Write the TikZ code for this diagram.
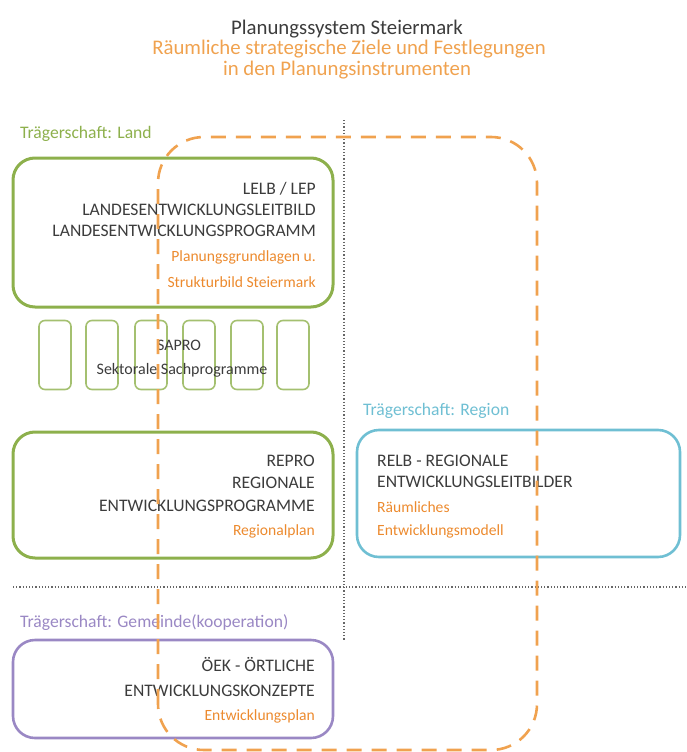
\documentclass[tikz,border=0pt]{standalone}
\usepackage{fontspec}
\setmainfont{Carlito}
\definecolor{tgreen}{HTML}{8DB04C}
\definecolor{tblue}{HTML}{6FBFD3}
\definecolor{tpurple}{HTML}{9A88C4}
\definecolor{torange}{HTML}{EC8A2E}
\definecolor{tlorange}{HTML}{F0A24F}
\definecolor{tdark}{HTML}{3C3C3C}
\begin{document}
\begin{tikzpicture}[x=1pt,y=-1pt,
  bigbox/.style={draw,rounded corners=22pt,line width=3pt,inner sep=0pt},
  smallbox/.style={draw=tgreen!80,rounded corners=6pt,line width=1.6pt,minimum width=32pt,minimum height=69pt,inner sep=0pt},
  caps/.style={font=\fontsize{17.6}{19}\selectfont,text=tdark,inner sep=0pt},
  sub/.style={font=\fontsize{15.6}{17}\selectfont,text=torange,inner sep=0pt},
  head/.style={font=\fontsize{17.6}{19}\selectfont,inner sep=0pt,anchor=base west},
  sep/.style={draw=gray!80!black,dotted,line width=1.2pt},
  odash/.style={draw=tlorange,line width=2.6pt,dash pattern=on 15pt off 10pt,rounded corners=46pt}
]
\useasboundingbox (0,0) rectangle (687,752);
% title
\node[font=\fontsize{20.8}{22}\selectfont,text=tdark,inner sep=0pt] (t1) at (347,29) {Planungssystem Steiermark};
\node[font=\fontsize{20.8}{22}\selectfont,text=tlorange,inner sep=0pt] (t2) at (349,49) {Räumliche strategische Ziele und Festlegungen};
\node[font=\fontsize{20.8}{22}\selectfont,text=tlorange,inner sep=0pt] (t3) at (347,70) {in den Planungsinstrumenten};
% separators
\coordinate (v1) at (344,120);
\coordinate (v2) at (344,641);
\coordinate (h1) at (13,587);
\coordinate (h2) at (687,587);
\draw[sep] (v1) -- (v2);
\draw[sep] (h1) -- (h2);
% Land
\node[head,text=tgreen] (hland) at (20,138) {Trägerschaft: Land};
\node[bigbox,draw=tgreen,minimum width=320pt,minimum height=149pt] (land) at (173,232.5) {};
\node[caps,anchor=base east] (l1) at (316,194) {LELB / LEP};
\node[caps,anchor=base east] (l2) at (316,215) {LANDESENTWICKLUNGSLEITBILD};
\node[caps,anchor=base east] (l3) at (316,236) {LANDESENTWICKLUNGSPROGRAMM};
\node[sub,anchor=base east] (l4) at (316,261) {Planungsgrundlagen u.};
\node[sub,anchor=base east] (l5) at (316,287) {Strukturbild Steiermark};
% SAPRO
\node[smallbox] (s1) at (55,355) {};
\node[smallbox] (s2) at (102,355) {};
\node[smallbox] (s3) at (151,355) {};
\node[smallbox] (s4) at (199,355) {};
\node[smallbox] (s5) at (247,355) {};
\node[smallbox] (s6) at (293,355) {};
\node[font=\fontsize{16}{18}\selectfont,text=tdark,inner sep=0pt] (sap1) at (179,345) {SAPRO};
\node[font=\fontsize{16}{18}\selectfont,text=tdark,inner sep=0pt] (sap2) at (182,370) {Sektorale Sachprogramme};
% REPRO
\node[bigbox,draw=tgreen,minimum width=320pt,minimum height=126pt] (repro) at (173,495) {};
\node[caps,anchor=base east] (r1) at (315,466) {REPRO};
\node[caps,anchor=base east] (r2) at (315,488) {REGIONALE};
\node[caps,anchor=base east] (r3) at (315,511) {ENTWICKLUNGSPROGRAMME};
\node[sub,anchor=base east] (r4) at (315,535) {Regionalplan};
% Region
\node[head,text=tblue] (hreg) at (363,415) {Trägerschaft: Region};
\node[bigbox,draw=tblue,line width=2.6pt,minimum width=323pt,minimum height=127pt] (relb) at (518.5,493.5) {};
\node[caps,anchor=base west] (b1) at (377,466) {RELB - REGIONALE};
\node[caps,anchor=base west] (b2) at (377,487) {ENTWICKLUNGSLEITBILDER};
\node[sub,anchor=base west] (b3) at (377,512) {Räumliches};
\node[sub,anchor=base west] (b4) at (377,535) {Entwicklungsmodell};
% Gemeinde
\node[head,text=tpurple] (hgem) at (20,627) {Trägerschaft: Gemeinde(kooperation)};
\node[bigbox,draw=tpurple,line width=2.6pt,minimum width=320pt,minimum height=98pt] (oek) at (173,689) {};
\node[caps,anchor=base east] (o1) at (315,671) {ÖEK - ÖRTLICHE};
\node[caps,anchor=base east] (o2) at (315,696) {ENTWICKLUNGSKONZEPTE};
\node[sub,anchor=base east] (o3) at (315,720) {Entwicklungsplan};
% orange dashed frame
\coordinate (f1) at (158,750);
\coordinate (f2) at (158,137);
\coordinate (f3) at (537,137);
\coordinate (f4) at (537,750);
\draw[odash] (f1) -- (f2) -- (f3) -- (f4) -- cycle;
\end{tikzpicture}
\end{document}
